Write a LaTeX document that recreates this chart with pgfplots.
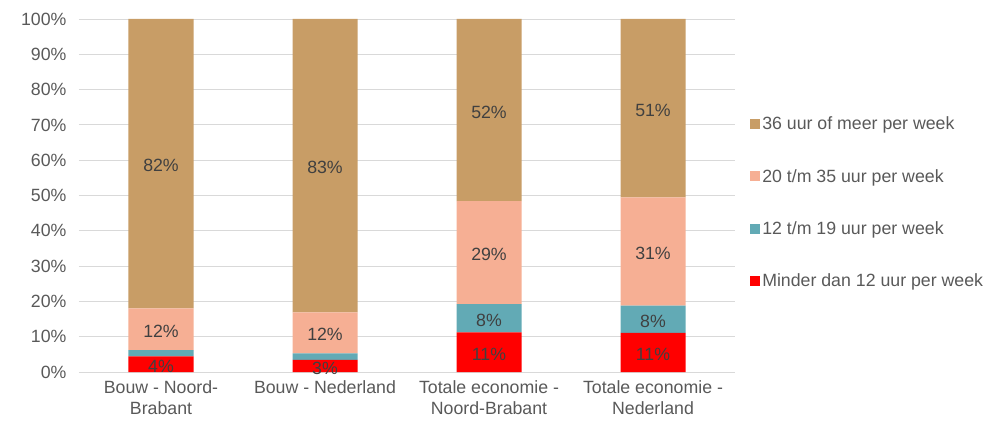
\documentclass[border=0pt]{standalone}
\usepackage{pgfplots}
\pgfplotsset{compat=1.18}
\usepackage{fontspec}
\setmainfont{Liberation Sans}
\definecolor{cBrown}{RGB}{200,157,102}
\definecolor{cSalmon}{RGB}{246,175,148}
\definecolor{cTeal}{RGB}{98,170,181}
\definecolor{cRed}{RGB}{255,0,0}
\definecolor{txt}{RGB}{89,89,89}
\definecolor{lbl}{RGB}{64,64,64}
\definecolor{gridc}{RGB}{217,217,217}
\pgfplotsset{
  base/.style={
    scale only axis, width=656bp, height=353bp,
    xmin=-0.5, xmax=3.5, ymin=0, ymax=100,
  }
}
\begin{document}
\begin{tikzpicture}[font=\fontsize{17.8}{21.5}\selectfont]
\useasboundingbox (-79bp,-52bp) rectangle (911bp,372bp);
\begin{axis}[base,
  ybar stacked, bar width=65bp,
  axis line style={draw=none},
  major tick length=0pt,
  ymajorgrids, grid style={gridc, line width=0.8bp},
  ytick={0,10,...,100},
  yticklabel={\pgfmathprintnumber{\tick}\%},
  /pgf/number format/assume math mode=true,
  y tick label style={text=txt, xshift=-9bp},
  xtick={0,1,2,3},
  xticklabels={{Bouw - Noord-\\Brabant},{Bouw - Nederland},{Totale economie -\\Noord-Brabant},{Totale economie -\\Nederland}},
  x tick label style={text=txt, align=center, yshift=-5bp},
  legend style={draw=none, fill=none, inner sep=0pt, at={(1.023,0.48)}, anchor=west,
    text=txt, row sep=34bp,
    /tikz/every even column/.append style={column sep=2bp}},
  legend cell align=left,
  reverse legend,
  legend image code/.code={\fill[#1] (0bp,-5bp) rectangle (10bp,5bp);},
]
\addplot[fill=cRed, draw=none] coordinates {(0,4.4) (1,3.4) (2,11.2) (3,11.1)};
\addplot[fill=cTeal, draw=none] coordinates {(0,1.8) (1,1.9) (2,8.0) (3,7.7)};
\addplot[fill=cSalmon, draw=none] coordinates {(0,11.8) (1,11.6) (2,29.2) (3,30.7)};
\addplot[fill=cBrown, draw=none] coordinates {(0,82.0) (1,83.1) (2,51.6) (3,50.5)};
\legend{Minder dan 12 uur per week, 12 t/m 19 uur per week, 20 t/m 35 uur per week, 36 uur of meer per week}
\end{axis}
\begin{axis}[base, hide axis]
\addplot[draw=none, mark=none, nodes near coords, point meta=explicit symbolic,
  every node near coord/.style={anchor=center, text=lbl, yshift=-2bp}] coordinates {
  (0,2.2)[4\%] (0,12.1)[12\%] (0,59.0)[82\%]
  (1,1.7)[3\%] (1,11.1)[12\%] (1,58.45)[83\%]
  (2,5.6)[11\%] (2,15.2)[8\%] (2,33.8)[29\%] (2,74.2)[52\%]
  (3,5.55)[11\%] (3,14.95)[8\%] (3,34.15)[31\%] (3,74.75)[51\%]
};
\end{axis}
\end{tikzpicture}
\end{document}
